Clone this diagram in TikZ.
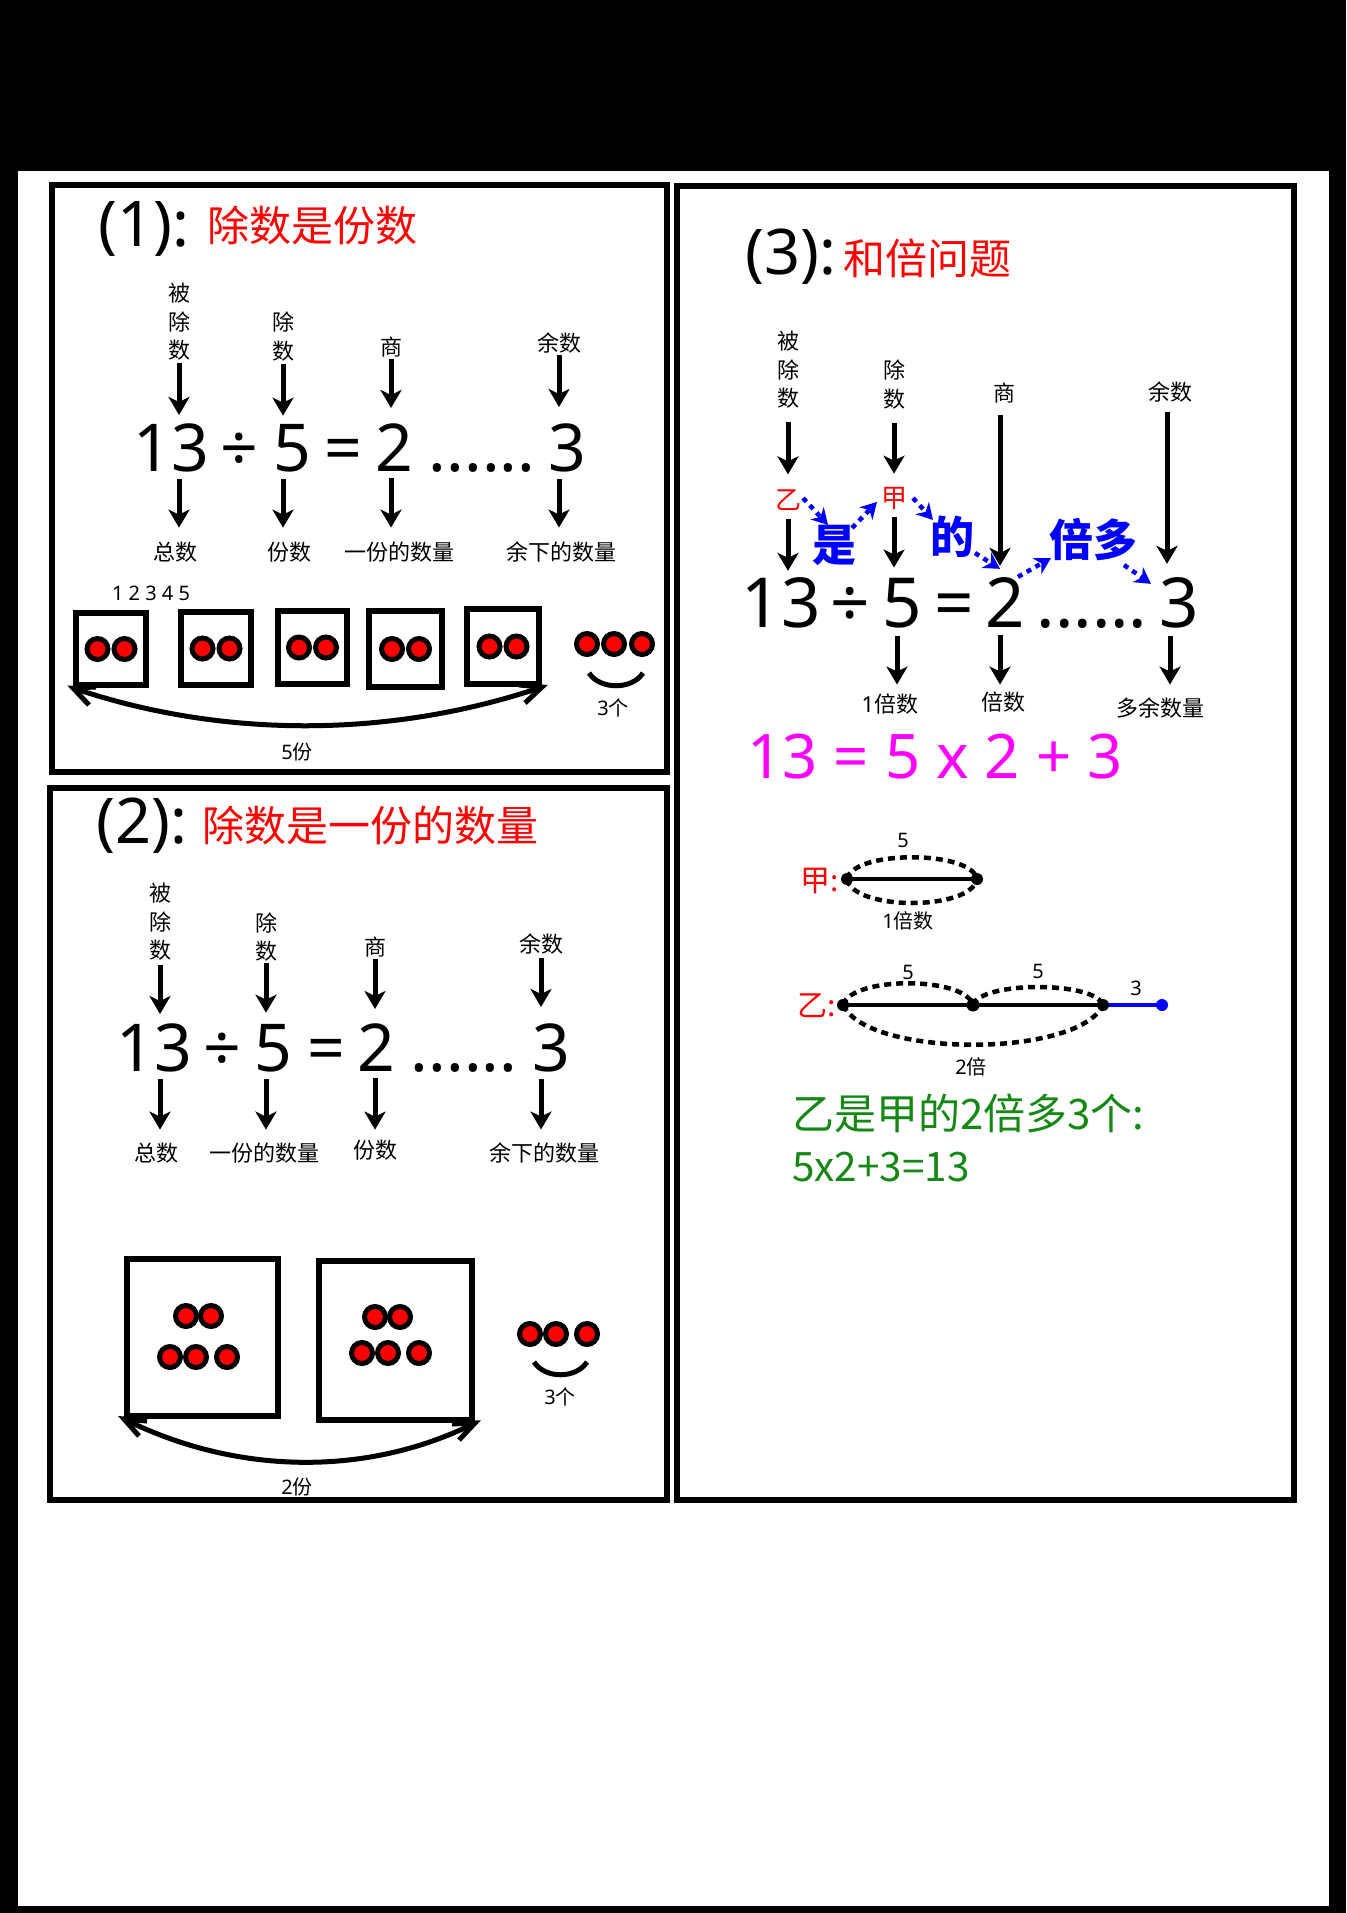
\documentclass[tikz,border=0pt]{standalone}
\usepackage{fontspec}
\setmainfont{Noto Sans}
\newfontfamily\cjk{Noto Sans CJK SC}
\newfontfamily\nfont{Noto Sans}
\usetikzlibrary{arrows.meta,calc}
\definecolor{mag}{RGB}{255,0,255}
\definecolor{grn}{RGB}{20,135,20}
\begin{document}
\begin{tikzpicture}[x=1pt,y=-1pt,
  panel/.style={draw=black, line width=6pt},
  arr/.style={line width=5pt, -{Stealth[length=18pt,width=21pt,inset=5pt]}},
  lab/.style={font=\cjk\fontsize{22}{28.5}\selectfont, align=center, inner sep=1pt},
  eqn/.style={anchor=base, inner sep=0pt, font=\nfont\fontsize{66}{70}\selectfont},
  eqnb/.style={anchor=base, inner sep=0pt, font=\nfont\fontsize{69}{72}\selectfont},
  ttl/.style={anchor=base west, inner sep=0pt, font=\nfont\fontsize{63}{66}\selectfont},
  rtitle/.style={anchor=west, inner sep=0pt, text=red, font=\cjk\fontsize{42}{46}\selectfont},
  dot/.style={circle, draw=black, fill=red, line width=5pt, minimum size=21pt, inner sep=0pt},
  boxn/.style={draw=black, line width=6pt, inner sep=0pt},
  small/.style={font=\cjk\fontsize{20}{22}\selectfont, inner sep=0pt},
  dbl/.style={line width=5pt},
  barbs/.style={line width=5pt, line join=miter},
  smile/.style={line width=5pt},
  redl/.style={text=red, font=\cjk\fontsize{26}{28}\selectfont, inner sep=1pt},
  redb/.style={text=red, font=\cjk\fontsize{30}{32}\selectfont, inner sep=0pt, anchor=east},
  bluet/.style={text=blue, font=\cjk\bfseries\fontsize{44}{46}\selectfont, inner sep=0pt},
  bdot/.style={blue, line width=4.5pt, dash pattern=on 5pt off 5pt, -{Stealth[length=16pt,width=18pt,inset=5pt]}},
  bar/.style={line width=4.5pt},
  dsh/.style={line width=4.5pt, dash pattern=on 7pt off 5pt},
  grnt/.style={anchor=west, text=grn, font=\cjk\fontsize{42}{44}\selectfont, inner sep=0pt}
]
\useasboundingbox (0,0) rectangle (1346,1913);
\fill[black] (0,0) rectangle (1346,1913);
\fill[white] (18,171) rectangle (1329,1906);
\draw[panel] (52,185) rectangle (667,772);
\draw[panel] (50,788) rectangle (667,1500);
\draw[panel] (677,186) rectangle (1294,1500);

% ---------------- Panel 1 ----------------
\node[ttl] (t1) at (98,246) {(1):};
\node[rtitle] (r1) at (207,225) {除数是份数};
\node[lab] (p1a) at (179,322) {被\\除\\数};
\node[lab] (p1b) at (283,336.5) {除\\数};
\node[lab] (p1c) at (391,347) {商};
\node[lab] (p1d) at (559,343) {余数};
\node[eqn] (p1n1) at (171.5,471) {13};
\node[eqn] (p1div) at (239,471) {÷};
\node[eqn] (p1n2) at (292,471) {5};
\node[eqn] (p1eq) at (343,471) {=};
\node[eqn] (p1n3) at (394,471) {2};
\node[eqn] (p1dots) at (482,471) {......};
\node[eqn] (p1n4) at (567.5,471) {3};
\node[lab] (p1e) at (175,552) {总数};
\node[lab] (p1f) at (289,552) {份数};
\node[lab] (p1g) at (399,552) {一份的数量};
\node[lab] (p1h) at (561,552) {余下的数量};
\draw[arr,shorten <=1.5pt,shorten >=8pt] (p1a.south) -- (p1a.south |- p1n1.north);
\draw[arr,shorten <=1.5pt,shorten >=8pt] (p1b.south) -- (p1b.south |- p1n2.north);
\draw[arr,shorten <=0.5pt,shorten >=15pt] (p1c.south) -- (p1c.south |- p1n3.north);
\draw[arr,shorten <=1pt,shorten >=16pt] (p1d.south) -- (p1d.south |- p1n4.north);
\draw[arr,shorten <=7pt,shorten >=13pt] (p1a.south |- p1n1.south) -- (p1a.south |- p1e.north);
\draw[arr,shorten <=7pt,shorten >=13pt] (p1b.south |- p1n2.south) -- (p1b.south |- p1f.north);
\draw[arr,shorten <=7pt,shorten >=13pt] (p1c.south |- p1n3.south) -- (p1c.south |- p1g.north);
\draw[arr,shorten <=7pt,shorten >=13pt] (p1d.south |- p1n4.south) -- (p1d.south |- p1h.north);

\node[font=\nfont\fontsize{20}{22}\selectfont, inner sep=0pt] (p1num) at (151,593) {1 2 3 4 5};
\node[boxn, minimum width=70pt, minimum height=72pt] (b1) at (111,649) {};
\node[boxn, minimum width=70pt, minimum height=73pt] (b2) at (216,648.5) {};
\node[boxn, minimum width=69pt, minimum height=73pt] (b3) at (312.5,647.5) {};
\node[boxn, minimum width=73pt, minimum height=76pt] (b4) at (405.5,649) {};
\node[boxn, minimum width=72pt, minimum height=75pt] (b5) at (503,646.5) {};
\foreach \b in {b1,b2,b3,b4,b5}{
  \node[dot] (\b l) at ($(\b)+(-13.5,0)$) {};
  \node[dot] (\b r) at ($(\b)+(13.5,0)$) {};
}
\node[dot] (p1r1) at (587,644) {};
\node[dot] (p1r2) at (614,644) {};
\node[dot] (p1r3) at (642,644) {};
\draw[smile] (589,673) .. controls (600,690) and (632,690) .. (643,673);
\node[small] (p1g3) at (613,708) {{\nfont 3}个};
\draw[dbl] (b1.south west) .. controls +(150,51) and +(-150,51) .. (b5.south east);
\draw[barbs] ($(b1.south west)+(16,17)$) -- (b1.south west) -- ($(b1.south west)+(23,-1)$);
\draw[barbs] ($(b5.south east)+(-17,16)$) -- (b5.south east) -- ($(b5.south east)+(-23,-2)$);
\node[small] (p1fen) at (297,752) {{\nfont 5}份};

% ---------------- Panel 2 ----------------
\node[ttl] (t2) at (96,843) {(2):};
\node[rtitle] (r2) at (202,825) {除数是一份的数量};
\node[lab] (p2a) at (160,922) {被\\除\\数};
\node[lab] (p2b) at (266,937) {除\\数};
\node[lab] (p2c) at (375,947) {商};
\node[lab] (p2d) at (541,944) {余数};
\node[eqn] (p2n1) at (154.5,1071) {13};
\node[eqn] (p2div) at (222.5,1071) {÷};
\node[eqn] (p2n2) at (273.5,1071) {5};
\node[eqn] (p2eq) at (326.5,1071) {=};
\node[eqn] (p2n3) at (376.5,1071) {2};
\node[eqn] (p2dots) at (464,1071) {......};
\node[eqn] (p2n4) at (551.5,1071) {3};
\node[lab] (p2e) at (156,1153) {总数};
\node[lab] (p2f) at (264,1153) {一份的数量};
\node[lab] (p2g) at (375,1150) {份数};
\node[lab] (p2h) at (544,1153) {余下的数量};
\draw[arr,shorten <=3.5pt,shorten >=9pt] (p2a.south) -- (p2a.south |- p2n1.north);
\draw[arr,shorten <=0.5pt,shorten >=11pt] (p2b.south) -- (p2b.south |- p2n2.north);
\draw[arr,shorten <=1pt,shorten >=14pt] (p2c.south) -- (p2c.south |- p2n3.north);
\draw[arr,shorten <=3pt,shorten >=16pt] (p2d.south) -- (p2d.south |- p2n4.north);
\draw[arr,shorten <=7pt,shorten >=12pt] (p2a.south |- p2n1.south) -- (p2a.south |- p2e.north);
\draw[arr,shorten <=7pt,shorten >=12pt] (p2b.south |- p2n2.south) -- (p2b.south |- p2f.north);
\draw[arr,shorten <=7pt,shorten >=9pt] (p2c.south |- p2n3.south) -- (p2c.south |- p2g.north);
\draw[arr,shorten <=7pt,shorten >=12pt] (p2d.south |- p2n4.south) -- (p2d.south |- p2h.north);

\node[boxn, minimum width=151pt, minimum height=157pt] (bA) at (202.5,1337.5) {};
\node[boxn, minimum width=153pt, minimum height=159pt] (bB) at (395.5,1340.5) {};
\node[dot] (a1) at (186,1316) {};
\node[dot] (a2) at (211,1316) {};
\node[dot] (a3) at (170,1357) {};
\node[dot] (a4) at (196,1357) {};
\node[dot] (a5) at (227,1357) {};
\node[dot] (c1) at (375,1317) {};
\node[dot] (c2) at (400,1317) {};
\node[dot] (c3) at (362,1353) {};
\node[dot] (c4) at (388,1353) {};
\node[dot] (c5) at (419,1353) {};
\node[dot] (p2r1) at (530,1334) {};
\node[dot] (p2r2) at (556,1334) {};
\node[dot] (p2r3) at (587,1334) {};
\draw[smile] (534,1362) .. controls (545,1379) and (576,1379) .. (587,1362);
\node[small] (p2g3) at (560,1397) {{\nfont 3}个};
\draw[dbl] (bA.south west) .. controls +(110,55) and +(-110,55) .. (bB.south east);
\draw[barbs] ($(bA.south west)+(15,17)$) -- (bA.south west) -- ($(bA.south west)+(23,2)$);
\draw[barbs] ($(bB.south east)+(-16,17)$) -- (bB.south east) -- ($(bB.south east)+(-23,1)$);
\node[small] (p2fen) at (297,1487) {{\nfont 2}份};

% ---------------- Panel 3 ----------------
\node[ttl] (t3) at (745,274) {(3):};
\node[rtitle] (r3) at (843,258) {和倍问题};
\node[lab] (p3a) at (788,370) {被\\除\\数};
\node[lab] (p3b) at (894,384.5) {除\\数};
\node[lab] (p3c) at (1004,393) {商};
\node[lab] (p3d) at (1170,392) {余数};
\node[redl] (yi) at (788,500) {乙};
\node[redl] (jia) at (894,498) {甲};
\node[bluet] (shi) at (834,545) {是};
\node[bluet] (de) at (952,537) {的};
\node[bluet] (bd) at (1093,540) {倍多};
\node[eqnb] (p3n1) at (781,627) {13};
\node[eqnb] (p3div) at (850,627) {÷};
\node[eqnb] (p3n2) at (902.5,627) {5};
\node[eqnb] (p3eq) at (954,627) {=};
\node[eqnb] (p3n3) at (1005,627) {2};
\node[eqnb] (p3dots) at (1092,627) {......};
\node[eqnb] (p3n4) at (1179,627) {3};
\node[lab] (p3e) at (890,704) {{\nfont 1}倍数};
\node[lab] (p3f) at (1003,702) {倍数};
\node[lab] (p3g) at (1160,708) {多余数量};

\draw[arr,shorten <=12.5pt,shorten >=14pt] (p3a.south) -- (p3a.south |- yi.north);
\draw[arr,shorten <=12.5pt,shorten >=12pt] (p3b.south) -- (p3b.south |- jia.north);
\draw[arr,shorten <=7pt,shorten >=6pt] (yi.south) -- (yi.south |- p3n1.north);
\draw[arr,shorten <=7pt,shorten >=10pt] (jia.south) -- (jia.south |- p3n2.north);
\draw[arr,shorten <=11pt,shorten >=11pt] ($(p3c.south)+(-4,0)$) -- ($(p3c.south |- p3n3.north)+(-4,0)$);
\draw[arr,shorten <=9pt,shorten >=13pt] ($(p3d.south)+(-3,0)$) -- ($(p3d.south |- p3n4.north)+(-3,0)$);
\draw[arr,shorten <=8pt,shorten >=8pt] ($(p3b.south |- p3n2.south)+(3,0)$) -- ($(p3b.south |- p3e.north)+(3,0)$);
\draw[arr,shorten <=8pt,shorten >=6pt] ($(p3c.south |- p3n3.south)+(-4,0)$) -- ($(p3c.south |- p3f.north)+(-4,0)$);
\draw[arr,shorten <=8pt,shorten >=12pt] (p3d.south |- p3n4.south) -- (p3d.south |- p3g.north);

\draw[bdot] ($(yi.center)+(15,-2)$) -- ($(shi.center)+(-6,-20)$);
\draw[bdot] ($(shi.center)+(18,-17)$) -- ($(jia.center)+(-17,4)$);
\draw[bdot] ($(jia.center)+(19,0)$) -- ($(de.center)+(-19,-17)$);
\draw[bdot] ($(de.center)+(23,16)$) -- ($(p3n3.north)+(-5,-8)$);
\draw[bdot] ($(p3n3.north)+(13,0)$) -- ($(bd.center)+(-42,18)$);
\draw[bdot] ($(bd.center)+(31,25)$) -- ($(p3n4.north)+(-28,7)$);

\node[anchor=base, inner sep=0pt, text=mag, font=\nfont\fontsize{61.5}{66}\selectfont] (mg) at (935,778) {13 = 5 x 2 + 3};

% bar model
\node[redb] (jl) at (839,881) {甲:};
\coordinate (j1) at (847,879);
\coordinate (j2) at (977,879);
\draw[bar] (j1) -- (j2);
\fill (j1) circle (6);
\fill (j2) circle (6);
\draw[dsh] (j1) .. controls +(6,-29) and +(-6,-29) .. (j2);
\draw[dsh] (j1) .. controls +(6,32) and +(-6,32) .. (j2);
\node[small] (j5) at (903,840) {{\nfont 5}};
\node[small] (j1b) at (908,921) {{\nfont 1}倍数};

\node[redb] (yl) at (836,1006) {乙:};
\coordinate (ya) at (843,1005);
\coordinate (yb) at (973,1005);
\coordinate (yc) at (1103,1005);
\coordinate (yd) at (1162,1005);
\draw[bar] (ya) -- (yc);
\draw[bar, blue] (yc) -- (yd);
\fill (ya) circle (6);
\fill (yb) circle (6.5);
\fill (yc) circle (6);
\fill[blue] (yd) circle (6);
\draw[dsh] (ya) .. controls +(8,-29) and +(-8,-29) .. (yb);
\draw[dsh] (yb) .. controls +(8,-24) and +(-8,-24) .. (yc);
\draw[dsh] (ya) .. controls +(25,53) and +(-25,53) .. (yc);
\node[small] (y5a) at (908,972) {{\nfont 5}};
\node[small] (y5b) at (1038,971) {{\nfont 5}};
\node[small] (y3) at (1136,988) {{\nfont 3}};
\node[small] (y2b) at (971,1067) {{\nfont 2}倍};

\node[grnt] (g1) at (792,1113) {乙是甲的2倍多3个:};
\node[grnt, font=\cjk\fontsize{40.5}{44}\selectfont] (g2) at (792,1167) {5x2+3=13};
\end{tikzpicture}
\end{document}
